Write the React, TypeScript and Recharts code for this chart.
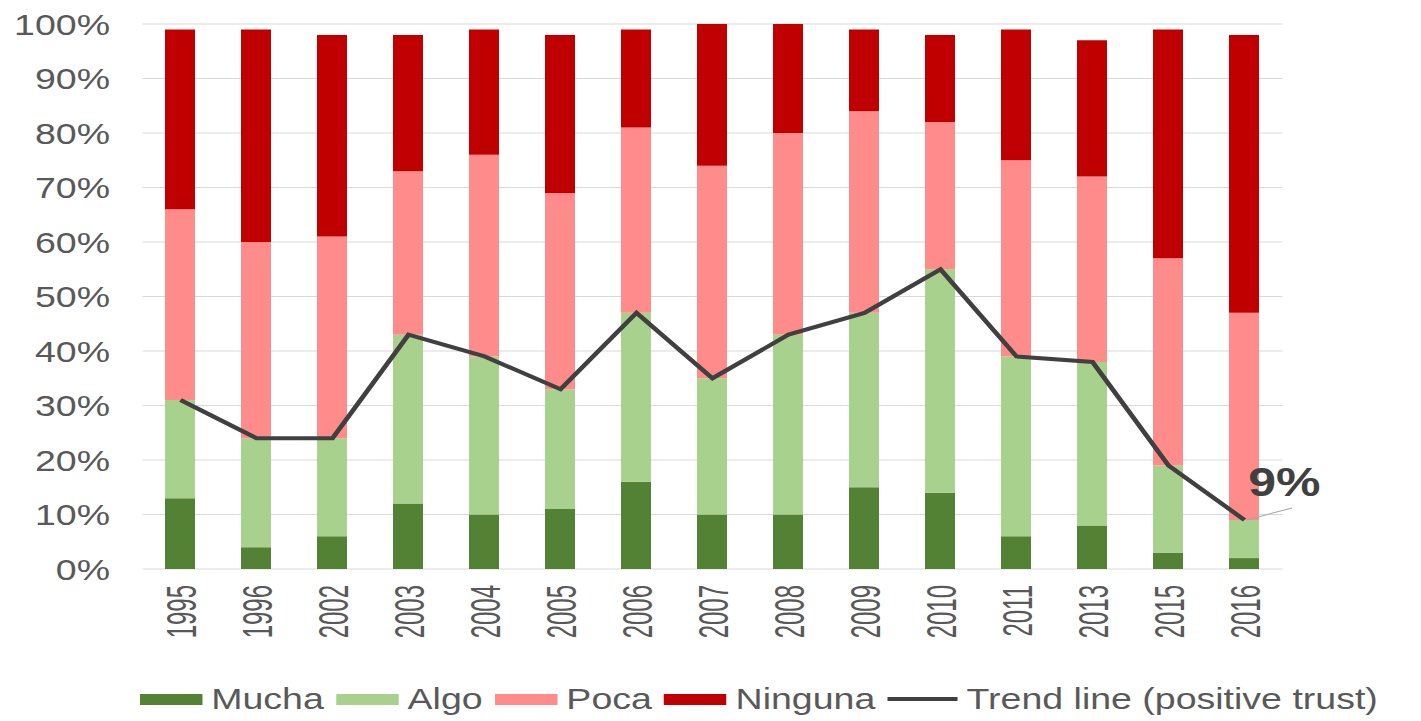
import React from 'react';
import { ComposedChart, Bar, Line, XAxis, YAxis, CartesianGrid, Legend, LabelList } from 'recharts';

const years = ['1995', '1996', '2002', '2003', '2004', '2005', '2006', '2007', '2008', '2009', '2010', '2011', '2013', '2015', '2016'];
const mucha = [13, 4, 6, 12, 10, 11, 16, 10, 10, 15, 14, 6, 8, 3, 2];
const algo = [18, 20, 18, 31, 29, 22, 31, 25, 33, 32, 41, 33, 30, 16, 7];
const poca = [35, 36, 37, 30, 37, 36, 34, 39, 37, 37, 27, 36, 34, 38, 38];
const ninguna = [33, 39, 37, 25, 23, 29, 18, 26, 20, 15, 16, 24, 25, 42, 51];
const trend = [31, 24, 24, 43, 39, 33, 47, 35, 43, 47, 55, 39, 38, 19, 9];
const percentTicks = [0, 10, 20, 30, 40, 50, 60, 70, 80, 90, 100];
const legendOrder = ['Mucha', 'Algo', 'Poca', 'Ninguna', 'Trend line (positive trust)'];

const data = years.map((year, i) => ({
  year,
  mucha: mucha[i],
  algo: algo[i],
  poca: poca[i],
  ninguna: ninguna[i],
  trend: trend[i],
}));

const FONT = '"Liberation Sans", Arial, sans-serif';
const TEXT = '#595959';
// the reference image is stretched sideways, so the chart is drawn narrower and scaled
const STRETCH = 1.25;
const W = 1137;
const H = 721;

const YTick = (props: any) => {
  const { x, y, payload, textAnchor } = props;
  return (
    <text x={x} y={y} dy="0.36em" textAnchor={textAnchor} fontSize={30} fill={TEXT} fontFamily={FONT}>
      {payload.value}%
    </text>
  );
};

const XTick = (props: any) => {
  const { x, y, payload } = props;
  return (
    <g transform={`translate(${x},${y})`}>
      <text transform="rotate(-90) scale(1,1.4)" textAnchor="end" dy="0.36em" fontSize={24} fill={TEXT} fontFamily={FONT}>
        {payload.value}
      </text>
    </g>
  );
};

const LegendContent = (props: any) => {
  const payload = [...(props.payload || [])].sort(
    (a: any, b: any) => legendOrder.indexOf(a.value) - legendOrder.indexOf(b.value)
  );
  return (
    <div style={{ display: 'flex', alignItems: 'center', height: 34, paddingLeft: 112, fontFamily: FONT, fontSize: 30, color: TEXT, whiteSpace: 'nowrap' }}>
      {payload.map((e: any) => (
        <div key={e.value} style={{ display: 'flex', alignItems: 'center', marginRight: 10 }}>
          {e.type === 'line'
            ? <div style={{ width: 56, height: 4, background: e.color }} />
            : <div style={{ width: 50, height: 11, background: e.color }} />}
          <span style={{ marginLeft: 7 }}>{e.value}</span>
        </div>
      ))}
    </div>
  );
};

const LastLabel = (props: any) => {
  const { x, y, value, index } = props;
  if (index !== trend.length - 1) return null;
  return (
    <g>
      <line x1={x + 2} y1={y} x2={x + 38} y2={y - 12} stroke="#A6A6A6" strokeWidth={1} />
      <text x={x + 3} y={y - 24} fontSize={40} fontWeight="bold" fill="#404040" fontFamily={FONT}>
        {value}%
      </text>
    </g>
  );
};

export default function App() {
  return (
    <div style={{ position: 'absolute', left: 0, top: 0, width: 1421, height: H, overflow: 'hidden', background: '#fff' }}>
      <div style={{ width: W, height: H, transform: `scaleX(${STRETCH})`, transformOrigin: '0 0' }}>
        <ComposedChart width={W} height={H} data={data} margin={{ top: 24, right: 0, bottom: 5, left: 0 }}>
          <CartesianGrid yAxisId="left" vertical={false} stroke="#D9D9D9" />
          <XAxis dataKey="year" height={113} axisLine={false} tickLine={false} tickSize={0} tickMargin={16} interval={0} tick={<XTick />} />
          <YAxis yAxisId="left" orientation="left" width={114} domain={[0, 100]} ticks={percentTicks} axisLine={false} tickLine={false} tickSize={0} tickMargin={26} tick={<YTick />} />
          <YAxis yAxisId="right" orientation="right" width={111} domain={[0, 100]} ticks={percentTicks} axisLine={false} tickLine={false} tickSize={0} tickMargin={28} tick={<YTick />} />
          <Bar yAxisId="left" dataKey="mucha" name="Mucha" stackId="a" fill="#548235" barSize={24} isAnimationActive={false} />
          <Bar yAxisId="left" dataKey="algo" name="Algo" stackId="a" fill="#A9D18E" barSize={24} isAnimationActive={false} />
          <Bar yAxisId="left" dataKey="poca" name="Poca" stackId="a" fill="#FF8B8B" barSize={24} isAnimationActive={false} />
          <Bar yAxisId="left" dataKey="ninguna" name="Ninguna" stackId="a" fill="#C00000" barSize={24} isAnimationActive={false} />
          <Line yAxisId="left" dataKey="trend" name="Trend line (positive trust)" type="linear" stroke="#404040" strokeWidth={4} dot={false} isAnimationActive={false}>
            <LabelList dataKey="trend" content={<LastLabel />} />
          </Line>
          <Legend verticalAlign="bottom" content={<LegendContent />} />
        </ComposedChart>
      </div>
    </div>
  );
}
